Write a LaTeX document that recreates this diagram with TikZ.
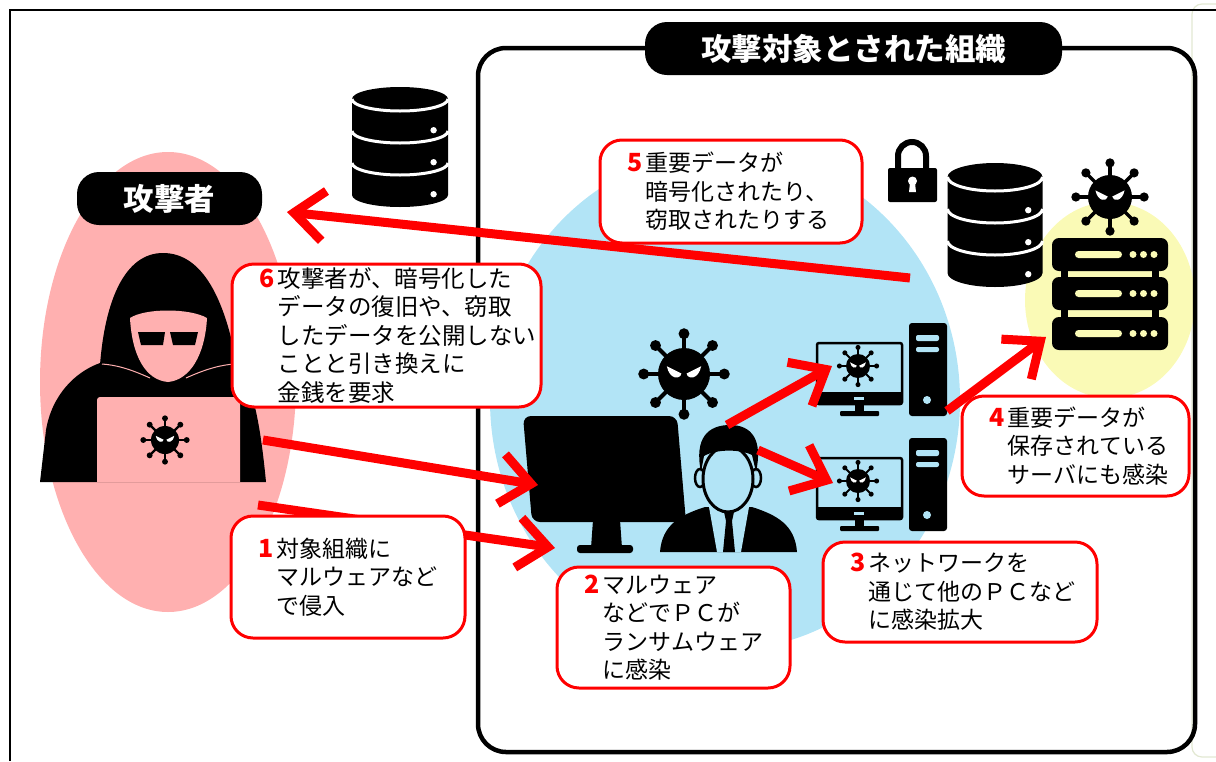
\documentclass[tikz,border=0pt]{standalone}
\usepackage{fontspec}
\setmainfont{Noto Sans CJK JP}
\usepackage{tikz}
\usetikzlibrary{arrows.meta,positioning,calc}

\definecolor{hoodpink}{RGB}{255,176,176}
\definecolor{netblue}{RGB}{178,228,246}
\definecolor{srvyellow}{RGB}{250,250,182}
\definecolor{alertred}{RGB}{255,0,0}
\definecolor{edgegray}{RGB}{226,232,210}

% virus: centre x, centre y, body radius
\newcommand{\virus}[3]{%
  \begin{scope}[shift={(#1,#2)}]
    \foreach \a in {0,45,...,315} {
      \draw[line width={0.16*#3}] (0,0) -- (\a:{1.55*#3});
      \fill (\a:{1.55*#3}) circle ({0.21*#3});
    }
    \fill (0,0) circle (#3);
    \fill[white] ({-0.66*#3},{-0.3*#3}) -- ({-0.1*#3},{-0.02*#3})
      .. controls ({-0.14*#3},{0.22*#3}) and ({-0.56*#3},{0.22*#3}) .. cycle;
    \fill[white] ({0.66*#3},{-0.3*#3}) -- ({0.1*#3},{-0.02*#3})
      .. controls ({0.14*#3},{0.22*#3}) and ({0.56*#3},{0.22*#3}) .. cycle;
  \end{scope}}

% disk stack: centre x, top ellipse y, width, segment height, ellipse y radius
\newcommand{\dbstack}[5]{%
  \fill ({#1-#3/2},#2) -- ({#1-#3/2},{#2+3*#4})
    arc[start angle=180,end angle=0,x radius={#3/2},y radius=#5]
    -- ({#1+#3/2},#2)
    arc[start angle=0,end angle=-180,x radius={#3/2},y radius=#5] -- cycle;
  \foreach \k in {0,1,2} {
    \draw[white,line width=3pt] ({#1-#3/2},{#2+\k*#4})
      arc[start angle=180,end angle=0,x radius={#3/2},y radius=#5];
    \fill[white] ({#1+0.35*#3},{#2+(\k+0.6)*#4+#5}) circle (3.2);
  }}

\newcommand{\numtag}[1]{\llap{{\color{alertred}\fontsize{25}{28.5}\selectfont\bfseries #1}\hspace{3pt}}}

\begin{document}
\begin{tikzpicture}[x=1pt,y=-1pt,>={Straight Barb[length=30pt,width=50pt]},
    msgbox/.style={draw=alertred,line width=3pt,fill=white,rounded corners=22pt},
    msgtext/.style={align=left,inner sep=0pt,anchor=west,
      font=\fontsize{23}{28.5}\selectfont},
    pill/.style={fill=black,rounded corners=22pt,text=white,
      font=\fontsize{30.5}{33}\selectfont\bfseries},
    attack/.style={->,draw=alertred,line width=9pt}]
    \useasboundingbox (0,0) rectangle (1216,761);

    % page frame
    \draw[edgegray,line width=1.2pt,rounded corners=10pt]
        (1216,4) -- (1192,4) -- (1192,757) -- (1216,757);
    \draw[line width=2pt] (10,761) -- (10,10) -- (1216,10);

    % zones
    \fill[hoodpink] (168,382) ellipse [x radius=128, y radius=230];
    \fill[netblue] (725,400) ellipse [x radius=235, y radius=250];
    \fill[srvyellow] (1110,300) ellipse [x radius=85, y radius=98];

    % target organisation
    \draw[line width=4.5pt,rounded corners=28pt] (478,48) rectangle (1195,752);
    \node[pill,minimum width=417pt,minimum height=53pt] (orgtitle) at (853.5,48.5) {攻撃対象とされた組織};
    \node[pill,minimum width=185pt,minimum height=53pt] (attlabel) at (169.5,198.5) {攻撃者};

    % hooded attacker
    \fill (40,482) -- (46,430) .. controls (52,395) and (75,372) .. (100,363)
        -- (235,363) .. controls (252,380) and (260,420) .. (266,482) -- cycle;
    \fill (100,365) .. controls (105,300) and (125,253) .. (163,253)
        .. controls (203,253) and (225,300) .. (237,365) -- cycle;
    \fill[hoodpink] (130,318) .. controls (145,308) and (190,308) .. (207,318)
        .. controls (205,355) and (190,380) .. (168,382)
        .. controls (145,380) and (132,355) .. cycle;
    \fill (138,332) -- (165,332) -- (163,345) -- (141,345) -- cycle;
    \fill (170,332) -- (198,332) -- (195,345) -- (173,345) -- cycle;
    \draw[hoodpink,line width=1pt] (150,378) .. controls (128,368) and (115,365) .. (102,364);
    \draw[hoodpink,line width=1pt] (186,378) .. controls (208,368) and (222,365) .. (234,364);
    \fill[hoodpink,rounded corners=3pt] (97,482) -- (97,397) -- (240,397) -- (240,482);
    \virus{165}{440}{14}

    % stolen data
    \dbstack{400}{99}{96}{32}{12}

    % infected PC and user
    \virus{684}{374}{26}
    \fill[rounded corners=8pt] (523,416) -- (677,416) -- (686,522) -- (532,522) -- cycle;
    \fill (593,520) -- (620,520) -- (622,548) -- (591,548) -- cycle;
    \fill[rounded corners=3pt] (577,545) rectangle (633,553);
    \fill (660,552) .. controls (662,525) and (680,515) .. (705,507) -- (752,507)
        .. controls (777,515) and (795,525) .. (797,552) -- cycle;
    \fill[netblue] (709,507) -- (749,507) -- (741,552) -- (717,552) -- cycle;
    \fill (724,512) -- (734,512) -- (732,521) -- (726,521) -- cycle;
    \fill (726,521) -- (732,521) -- (735,552) -- (723,552) -- cycle;
    \filldraw[fill=netblue,line width=2.5pt] (700,478) ellipse [x radius=5, y radius=9];
    \filldraw[fill=netblue,line width=2.5pt] (756,478) ellipse [x radius=5, y radius=9];
    \filldraw[fill=netblue,line width=3pt] (728,479) ellipse [x radius=25, y radius=33];
    \fill (701,472) .. controls (694,438) and (708,425) .. (730,425)
        .. controls (752,425) and (763,440) .. (756,472) -- (752,455)
        .. controls (740,449) and (716,449) .. (704,456) -- cycle;

    % other PCs on the network
    \foreach \dy in {0,115} {
        \draw[line width=2.5pt,fill=netblue,rounded corners=2pt] (817,{343+\dy}) rectangle (902,{404+\dy});
        \fill (817,{392+\dy}) rectangle (902,{405+\dy});
        \fill[netblue] (854,{397+\dy}) rectangle (864,{400+\dy});
        \fill (855,{405+\dy}) rectangle (864,{412+\dy});
        \fill[rounded corners=1pt] (840,{411+\dy}) rectangle (879,{416+\dy});
        \fill[rounded corners=3pt] (909,{323+\dy}) rectangle (947,{416+\dy});
        \fill[netblue,rounded corners=2pt] (916,{335+\dy}) rectangle (939,{341+\dy});
        \fill[netblue,rounded corners=2pt] (916,{347+\dy}) rectangle (939,{352+\dy});
        \fill[netblue] (927,{400+\dy}) circle (4);
        \virus{858}{366+\dy}{12}
    }

    % lock, encrypted data and file server
    \draw[line width=6pt] (898,170) -- (898,156) arc[start angle=180,end angle=360,radius=14] -- (926,170);
    \fill[rounded corners=2pt] (888,168) rectangle (937,202);
    \fill[white] (912.5,181) circle (4.5);
    \fill[white] (910,183) -- (915,183) -- (916,192) -- (909,192) -- cycle;
    \dbstack{995}{177}{95}{32}{14}
    \virus{1110}{197}{22}
    \fill (1061,262) rectangle (1068,330);
    \fill (1152,262) rectangle (1159,330);
    \foreach \ry in {238,277,317} {
        \fill[rounded corners=7pt] (1052,\ry) rectangle (1168,{\ry+33});
        \fill[srvyellow,rounded corners=3.5pt] (1075,{\ry+13}) rectangle (1122,{\ry+20});
        \foreach \dx in {1133,1143.5,1154}
            \fill[srvyellow] (\dx,{\ry+16.5}) circle (3.5);
    }

    % attack flow
    \coordinate (leak) at (910,278);
    \coordinate (loot) at (287,212);
    \coordinate (lapout) at (263,440);
    \coordinate (pcin) at (538,485);
    \coordinate (intrude) at (258,505);
    \coordinate (pcfoot) at (555,548);
    \coordinate (headtop) at (727,425);
    \coordinate (pcone) at (832,366);
    \coordinate (headside) at (758,450);
    \coordinate (pctwo) at (833,483);
    \coordinate (towerout) at (947,411);
    \coordinate (srvin) at (1046,337);
    \draw[attack] (leak) -- (loot);
    \draw[attack] (lapout) -- (pcin);
    \draw[attack] (intrude) -- (pcfoot);
    \draw[attack] (headtop) -- (pcone);
    \draw[attack] (headside) -- (pctwo);
    \draw[attack] (towerout) -- (srvin);

    % step notes
    \node[msgbox,minimum width=234pt,minimum height=122pt] (box1) at (348,577) {};
    \node[msgtext] (txt1) at ([xshift=47pt]box1.west) {\numtag{1}対象組織に\\マルウェアなど\\で侵入};
    \node[msgbox,minimum width=233pt,minimum height=121pt] (box2) at (673.5,627.5) {};
    \node[msgtext] (txt2) at ([xshift=47pt]box2.west) {\numtag{2}マルウェア\\などでＰＣが\\ランサムウェア\\に感染};
    \node[msgbox,minimum width=274pt,minimum height=100pt] (box3) at (960,592) {};
    \node[msgtext] (txt3) at ([xshift=47pt]box3.west) {\numtag{3}ネットワークを\\通じて他のＰＣなど\\に感染拡大};
    \node[msgbox,minimum width=227pt,minimum height=100pt] (box4) at (1075.5,446) {};
    \node[msgtext] (txt4) at ([xshift=47pt]box4.west) {\numtag{4}重要データが\\保存されている\\サーバにも感染};
    \node[msgbox,minimum width=262pt,minimum height=103pt] (box5) at (731,191.5) {};
    \node[msgtext] (txt5) at ([xshift=47pt]box5.west) {\numtag{5}重要データが\\暗号化されたり、\\窃取されたりする};
    \node[msgbox,minimum width=309pt,minimum height=143pt] (box6) at (386.5,335.5) {};
    \node[msgtext,font=\fontsize{23.5}{28.5}\selectfont] (txt6) at ([xshift=47pt]box6.west) {\numtag{6}攻撃者が、暗号化した\\データの復旧や、窃取\\したデータを公開しない\\ことと引き換えに\\金銭を要求};
\end{tikzpicture}
\end{document}
